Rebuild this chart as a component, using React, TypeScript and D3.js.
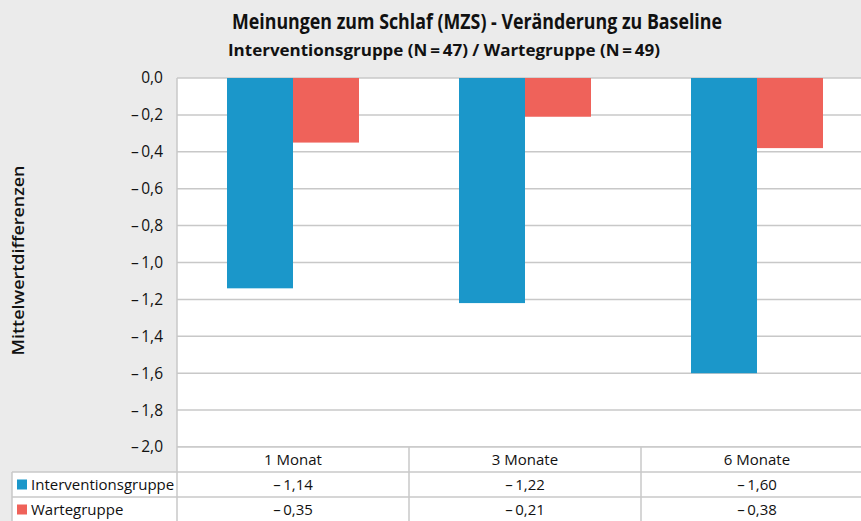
import React from "react";
import * as d3 from "d3";

const categories = ["1 Monat", "3 Monate", "6 Monate"];
const seriesNames = ["Interventionsgruppe", "Wartegruppe"];
const interventionValues = [-1.14, -1.22, -1.6];
const warteValues = [-0.35, -0.21, -0.38];
const yTicks = [0, -0.2, -0.4, -0.6, -0.8, -1.0, -1.2, -1.4, -1.6, -1.8, -2.0];
const colors = ["#1b97ca", "#ef625a"];

const W = 861;
const H = 521;
const FONT = "'Open Sans', 'Noto Sans', sans-serif";

const fmt = (v: number, d: number) => {
  const s = Math.abs(v).toFixed(d).replace(".", ",");
  return v < -1e-9 ? "\u2013\u2009" + s : s;
};

export default function App() {
  const plotLeft = 177;
  const plotTop = 78;
  const plotBottom = 447;
  const colW = 232;
  const x = d3
    .scaleBand<string>()
    .domain(categories)
    .range([plotLeft, plotLeft + colW * categories.length])
    .padding(0);
  const xs = d3.scaleBand<string>().domain(seriesNames).range([50, 182]).padding(0);
  const y = d3.scaleLinear().domain([-2, 0]).range([plotBottom, plotTop]);
  const seriesValues = [interventionValues, warteValues];
  const rowH = 25;
  const rowY = [plotBottom, plotBottom + rowH, plotBottom + rowH * 2, plotBottom + rowH * 3];
  const gridColor = "#c8c8c8";

  return (
    <svg
      width={W}
      height={H}
      style={{ position: "absolute", left: 0, top: 0, display: "block" }}
      fontFamily={FONT}
    >
      <rect x={0} y={0} width={W} height={H} fill="#ebebeb" />
      <text x={232} y={29} fontSize={21} fontWeight={700} fill="#111" textLength={490} lengthAdjust="spacingAndGlyphs">
        Meinungen zum Schlaf (MZS) - Veränderung zu Baseline
      </text>
      <text x={228} y={56} fontSize={16} fontWeight={700} fill="#111" textLength={432} lengthAdjust="spacingAndGlyphs">
        Interventionsgruppe (N{"\u2009=\u2009"}47) / Wartegruppe (N{"\u2009=\u2009"}49)
      </text>
      {/* plot area */}
      <rect x={plotLeft} y={plotTop} width={W - plotLeft} height={plotBottom - plotTop} fill="#fff" />
      {yTicks.map((t) => (
        <line key={"g" + t} x1={plotLeft} x2={W} y1={y(t)} y2={y(t)} stroke={gridColor} strokeWidth={1.5} />
      ))}
      {yTicks.map((t) => (
        <text key={"t" + t} x={163} y={y(t)} dy="0.35em" textAnchor="end" fontSize={15.5} fill="#111">
          {fmt(t, 1)}
        </text>
      ))}
      <text
        transform={`translate(24,${(plotTop + plotBottom) / 2 - 2}) rotate(-90)`}
        textAnchor="middle"
        fontSize={17}
        fontWeight={600}
        fill="#111"
        textLength={190}
        lengthAdjust="spacingAndGlyphs"
      >
        Mittelwertdifferenzen
      </text>
      {/* bars */}
      {categories.map((c, i) =>
        seriesNames.map((s, j) => {
          const v = seriesValues[j][i];
          return (
            <rect
              key={c + s}
              x={(x(c) ?? 0) + (xs(s) ?? 0)}
              y={y(0)}
              width={xs.bandwidth()}
              height={y(v) - y(0)}
              fill={colors[j]}
            />
          );
        })
      )}
      {/* table */}
      <rect x={plotLeft} y={plotBottom} width={W - plotLeft} height={H - plotBottom} fill="#fff" />
      <rect x={12} y={rowY[1]} width={plotLeft - 12} height={H - rowY[1]} fill="#fff" />
      <line x1={plotLeft} x2={plotLeft} y1={plotTop} y2={H} stroke={gridColor} strokeWidth={1.5} />
      <line x1={12} x2={12} y1={rowY[1]} y2={H} stroke={gridColor} strokeWidth={1.5} />
      <line x1={plotLeft} x2={W} y1={rowY[0]} y2={rowY[0]} stroke={gridColor} strokeWidth={1.5} />
      <line x1={12} x2={W} y1={rowY[1]} y2={rowY[1]} stroke={gridColor} strokeWidth={1.5} />
      <line x1={12} x2={W} y1={rowY[2]} y2={rowY[2]} stroke={gridColor} strokeWidth={1.5} />
      {categories.slice(1).map((c) => (
        <line key={"v" + c} x1={x(c) ?? 0} x2={x(c) ?? 0} y1={rowY[0]} y2={H} stroke={gridColor} strokeWidth={1.5} />
      ))}
      {categories.map((c) => (
        <text key={"h" + c} x={(x(c) ?? 0) + x.bandwidth() / 2} y={rowY[0] + rowH / 2} dy="0.35em" textAnchor="middle" fontSize={15} fill="#111">
          {c}
        </text>
      ))}
      {seriesNames.map((s, j) => (
        <g key={"row" + s}>
          <rect x={17} y={rowY[j + 1] + 7.5} width={10} height={10} fill={colors[j]} />
          <text x={31} y={rowY[j + 1] + rowH / 2} dy="0.35em" fontSize={15} fill="#111">
            {s}
          </text>
          {categories.map((c, i) => (
            <text
              key={"c" + s + c}
              x={(x(c) ?? 0) + x.bandwidth() / 2}
              y={rowY[j + 1] + rowH / 2}
              dy="0.35em"
              textAnchor="middle"
              fontSize={15}
              fill="#111"
            >
              {fmt(seriesValues[j][i], 2)}
            </text>
          ))}
        </g>
      ))}
    </svg>
  );
}
